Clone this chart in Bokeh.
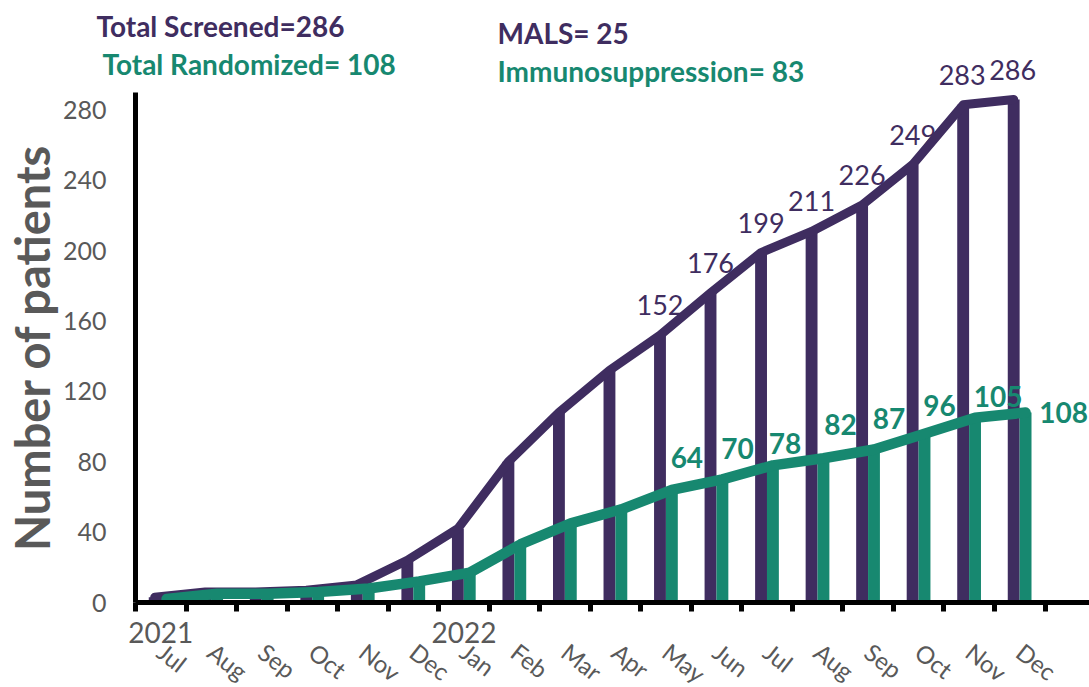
import numpy as np
from bokeh.plotting import figure
from bokeh.layouts import column
from bokeh.models import Range1d, LinearAxis, FixedTicker, ColumnDataSource
from bokeh.core.properties import value
from bokeh.embed import file_html
from bokeh.resources import INLINE

# ---- data ----
months = ["Jul", "Aug", "Sep", "Oct", "Nov", "Dec",
          "Jan", "Feb", "Mar", "Apr", "May", "Jun",
          "Jul", "Aug", "Sep", "Oct", "Nov", "Dec"]
years = ["2021", "2022"]
year_first_month = [0, 6]
screened = [3, 6, 6, 7, 10, 24, 42, 80, 108, 132, 152, 176, 199, 211, 226, 249, 283, 286]
randomized = [2, 5, 5, 6, 8, 12, 17, 33, 45, 53, 64, 70, 78, 82, 87, 96, 105, 108]
labelled_from = 10  # data labels shown from May 2022 on
y_ticks = [0, 40, 80, 120, 160, 200, 240, 280]
header_texts = ["Total Screened=286", "Total Randomized= 108",
                "MALS= 25", "Immunosuppression= 83"]

# ---- styles / layout ----
PURPLE = "#3F2D60"
GREEN = "#178870"
GREY = "#595959"
FONT = "Lato"
BAR_W = 0.235
P_OFF, G_OFF = 0.38, 0.615
green_dx = [15, 15, 12, 17, 15, 15, 23, 38]
green_dy = [-32, -31, -22, -34, -31, -28, -21, 0]
PURPLE_DY = -30
header_x = [96, 102, 497, 497]
header_y = [25, 63, 32, 70]
header_col = [PURPLE, GREEN, PURPLE, GREEN]
W, HEAD_H = 1089, 92
LEFT, FRAME_W, FRAME_H = 134, 955, 510
X_END, Y_END = 18.9, 290

n = len(months)
idx = np.arange(n)
px_per_x = FRAME_W / X_END
px_per_y = FRAME_H / Y_END

src = ColumnDataSource(dict(
    xp=idx + P_OFF, xg=idx + G_OFF,
    screened=screened, randomized=randomized,
))
lab_g = ColumnDataSource(dict(
    xg=(idx + G_OFF)[labelled_from:],
    yr=randomized[labelled_from:],
    tr=[str(v) for v in randomized[labelled_from:]],
    dx=green_dx, dy=green_dy,
))

# purple labels: those whose text rises above the plot frame go to the header strip
xp_l = list((idx + P_OFF)[labelled_from:])
ys_l = screened[labelled_from:]
limit = Y_END + PURPLE_DY / px_per_y
in_main = [i for i, v in enumerate(ys_l) if v <= limit]
in_head = [i for i, v in enumerate(ys_l) if v > limit]
lab_p_main = ColumnDataSource(dict(
    xp=[xp_l[i] for i in in_main], ys=[ys_l[i] for i in in_main],
    ts=[str(ys_l[i]) for i in in_main]))
lab_p_head = ColumnDataSource(dict(
    xp=[xp_l[i] for i in in_head], ys=[ys_l[i] for i in in_head],
    ts=[str(ys_l[i]) for i in in_head]))

# ---- header strip: continues the chart's scales upward ----
head = figure(width=W, height=HEAD_H, output_backend="svg", toolbar_location=None,
              title=None,
              x_range=Range1d(-LEFT / px_per_x, X_END),
              y_range=Range1d(Y_END, Y_END + HEAD_H / px_per_y),
              x_axis_location=None, y_axis_location=None, min_border=0,
              frame_align=False)
head.extra_x_ranges = {"px": Range1d(0, W)}
head.extra_y_ranges = {"px": Range1d(HEAD_H, 0)}
head.grid.visible = False
head.outline_line_color = None
head.text(x=header_x, y=header_y, text=header_texts, text_color=header_col,
          x_range_name="px", y_range_name="px",
          text_font=value(FONT), text_font_style="bold", text_font_size="28px",
          text_align="left", text_baseline="alphabetic")

# ---- main chart ----
p = figure(frame_width=FRAME_W, frame_height=FRAME_H, output_backend="svg",
           toolbar_location=None, title=None,
           x_range=Range1d(0, X_END), y_range=Range1d(0, Y_END),
           x_axis_location=None, frame_align=False,
           min_border_left=LEFT, min_border_right=0,
           min_border_top=0, min_border_bottom=0)
p.grid.visible = False
p.outline_line_color = None

# bars
p.vbar(x="xp", top="screened", bottom=0, width=BAR_W, source=src,
       fill_color=PURPLE, line_color=None)
p.vbar(x="xg", top="randomized", bottom=0, width=BAR_W, source=src,
       fill_color=GREEN, line_color=None)
# lines
p.line(x="xp", y="screened", source=src, line_color=PURPLE, line_width=9,
       line_cap="round", line_join="round")
p.line(x="xg", y="randomized", source=src, line_color=GREEN, line_width=10.5,
       line_cap="round", line_join="round")

# data labels
for fig, s in ((p, lab_p_main), (head, lab_p_head)):
    fig.text(x="xp", y="ys", text="ts", source=s, text_color=PURPLE,
             text_font=value(FONT), text_font_size="27px", text_align="center",
             text_baseline="middle", y_offset=PURPLE_DY)
p.text(x="xg", y="yr", text="tr", source=lab_g, text_color=GREEN,
       text_font=value(FONT), text_font_style="bold", text_font_size="28px",
       text_align="center", text_baseline="middle", x_offset="dx", y_offset="dy")

# y axis
ya = p.yaxis[0]
ya.ticker = FixedTicker(ticks=y_ticks)
ya.axis_line_color = "black"
ya.axis_line_width = 5
ya.major_tick_out = 0
ya.major_tick_in = 0
ya.minor_tick_out = 0
ya.minor_tick_in = 0
ya.major_label_standoff = 29
ya.major_label_text_font = FONT
ya.major_label_text_font_size = "25px"
ya.major_label_text_color = GREY
ya.axis_label = "Number of patients"
ya.axis_label_text_font = FONT
ya.axis_label_text_font_style = "bold"
ya.axis_label_text_font_size = "47px"
ya.axis_label_text_color = GREY
ya.axis_label_standoff = 0

# x axis: line, month boundary ticks, year labels
xa = LinearAxis(
    ticker=FixedTicker(ticks=[i + 0.5 for i in year_first_month],
                       minor_ticks=list(range(n + 1))),
    major_label_overrides={i + 0.5: y for i, y in zip(year_first_month, years)},
    axis_line_color="black", axis_line_width=5,
    major_tick_out=0, major_tick_in=0,
    minor_tick_out=9, minor_tick_in=0, minor_tick_line_width=5,
    minor_tick_line_color="black",
    major_label_standoff=10,
    major_label_text_font=FONT, major_label_text_font_size="28px",
    major_label_text_color=GREY,
)
p.add_layout(xa, "below")

# x axis: rotated month labels
ma = LinearAxis(
    ticker=FixedTicker(ticks=[i + 0.5 for i in range(n)], minor_ticks=[]),
    major_label_overrides={i + 0.5: m for i, m in enumerate(months)},
    axis_line_color=None, major_tick_out=0, major_tick_in=0,
    minor_tick_out=0, minor_tick_in=0,
    major_label_standoff=3,
    major_label_orientation=-0.66,
    major_label_text_font=FONT, major_label_text_font_size="24px",
    major_label_text_color=GREY,
)
p.add_layout(ma, "below")

layout = column(head, p, spacing=0)
open("out.html", "w").write(file_html(layout, INLINE))
